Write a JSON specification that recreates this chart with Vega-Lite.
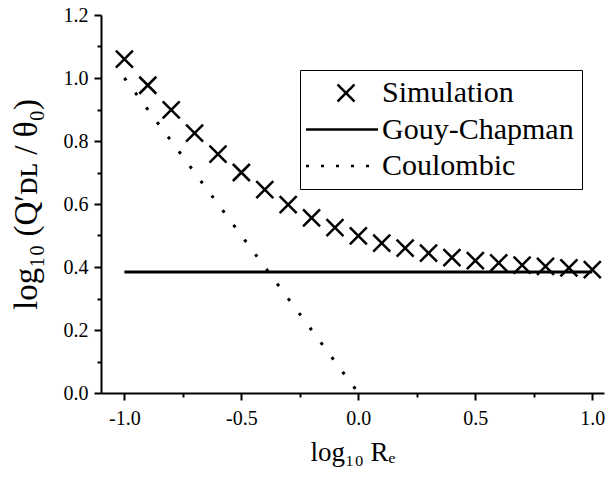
{
  "$schema": "https://vega.github.io/schema/vega-lite/v6.json",
  "width": 503,
  "height": 378,
  "autosize": {"type": "none"},
  "padding": {"left": 101, "top": 15, "right": 3, "bottom": 84},
  "background": "white",
  "config": {
    "font": "Liberation Serif",
    "view": {"stroke": null},
    "axis": {"grid": false, "domainColor": "black", "domainWidth": 2, "tickColor": "black", "tickWidth": 2, "labelColor": "black", "titleColor": "black", "labelFont": "Liberation Serif", "titleFont": "Liberation Serif", "titleFontWeight": "normal", "labelFontSize": 20},
    "legend": {"labelFont": "Liberation Serif"}
  },
  "datasets": {
    "sim": [
      {"series": "Simulation", "x": -1.0, "y": 1.060},
      {"series": "Simulation", "x": -0.9, "y": 0.977},
      {"series": "Simulation", "x": -0.8, "y": 0.899},
      {"series": "Simulation", "x": -0.7, "y": 0.825},
      {"series": "Simulation", "x": -0.6, "y": 0.758},
      {"series": "Simulation", "x": -0.5, "y": 0.700},
      {"series": "Simulation", "x": -0.4, "y": 0.646},
      {"series": "Simulation", "x": -0.3, "y": 0.598},
      {"series": "Simulation", "x": -0.2, "y": 0.556},
      {"series": "Simulation", "x": -0.1, "y": 0.525},
      {"series": "Simulation", "x": 0.0, "y": 0.499},
      {"series": "Simulation", "x": 0.1, "y": 0.476},
      {"series": "Simulation", "x": 0.2, "y": 0.460},
      {"series": "Simulation", "x": 0.3, "y": 0.444},
      {"series": "Simulation", "x": 0.4, "y": 0.430},
      {"series": "Simulation", "x": 0.5, "y": 0.420},
      {"series": "Simulation", "x": 0.6, "y": 0.413},
      {"series": "Simulation", "x": 0.7, "y": 0.406},
      {"series": "Simulation", "x": 0.8, "y": 0.402},
      {"series": "Simulation", "x": 0.9, "y": 0.397},
      {"series": "Simulation", "x": 1.0, "y": 0.392}
    ],
    "lines": [
      {"series": "Gouy-Chapman", "x": -1.0, "y": 0.384},
      {"series": "Gouy-Chapman", "x": 1.0, "y": 0.384},
      {"series": "Coulombic", "x": -1.0, "y": 1.0},
      {"series": "Coulombic", "x": 0.0, "y": 0.0}
    ]
  },
  "encoding": {
    "x": {
      "field": "x", "type": "quantitative",
      "scale": {"domain": [-1.1, 1.05], "nice": false, "zero": false},
      "axis": {
        "values": [-1, -0.75, -0.5, -0.25, 0, 0.25, 0.5, 0.75, 1],
        "tickSize": {"condition": {"test": "abs(datum.value*2 - round(datum.value*2)) < 0.001", "value": 7}, "value": 4},
        "labelExpr": "abs(datum.value*2 - round(datum.value*2)) < 0.001 ? replace(format(datum.value, '.1f'), '\u2212', '-') : ''",
        "labelPadding": 8,
        "title": "log₁₀ Rₑ",
        "titleFontSize": 27,
        "titlePadding": 11
      }
    },
    "y": {
      "field": "y", "type": "quantitative",
      "scale": {"domain": [0, 1.2], "nice": false},
      "axis": {
        "values": [0, 0.1, 0.2, 0.3, 0.4, 0.5, 0.6, 0.7, 0.8, 0.9, 1.0, 1.1, 1.2],
        "tickSize": {"condition": {"test": "abs(datum.value*5 - round(datum.value*5)) < 0.001", "value": 7}, "value": 4},
        "labelExpr": "abs(datum.value*5 - round(datum.value*5)) < 0.001 ? format(datum.value, '.1f') : ''",
        "labelPadding": 6,
        "title": "log₁₀ (Q′ᴅʟ / θ₀)",
        "titleFontSize": 33,
        "titlePadding": 20
      }
    },
    "color": {
      "field": "series", "type": "nominal",
      "scale": {"domain": ["Simulation", "Gouy-Chapman", "Coulombic"], "range": ["black", "black", "black"]},
      "legend": {
        "orient": "none", "legendX": 199, "legendY": 55,
        "title": null,
        "strokeColor": "black", "padding": 8,
        "labelFont": "Liberation Serif", "labelFontSize": 30, "labelColor": "black", "labelLimit": 400,
        "symbolSize": 400, "labelOffset": 44, "rowPadding": 6.5,
        "encode": {
          "symbols": {
            "update": {
              "shape": {"signal": "datum.value === 'Simulation' ? 'M1.45,-0.85L3.15,0.85M1.45,0.85L3.15,-0.85' : 'M-1.7,0L5.5,0'"},
              "size": {"value": 400},
              "strokeDash": {"signal": "datum.value === 'Coulombic' ? [3, 12] : [1, 0]"},
              "strokeWidth": {"value": 2.5},
              "stroke": {"value": "black"},
              "fill": {"value": "transparent"},
              "opacity": {"value": 1}
            }
          }
        }
      }
    }
  },
  "layer": [
    {
      "data": {"name": "lines"},
      "mark": {"type": "line", "strokeWidth": 3},
      "encoding": {
        "strokeDash": {"field": "series", "type": "nominal", "scale": {"domain": ["Gouy-Chapman", "Coulombic"], "range": [[1, 0], [3, 15.3]]}, "legend": null}
      }
    },
    {
      "data": {"name": "sim"},
      "mark": {"type": "point", "shape": "M-0.85,-0.85L0.85,0.85M-0.85,0.85L0.85,-0.85", "size": 400, "strokeWidth": 2.5, "filled": false, "opacity": 1}
    }
  ]
}
